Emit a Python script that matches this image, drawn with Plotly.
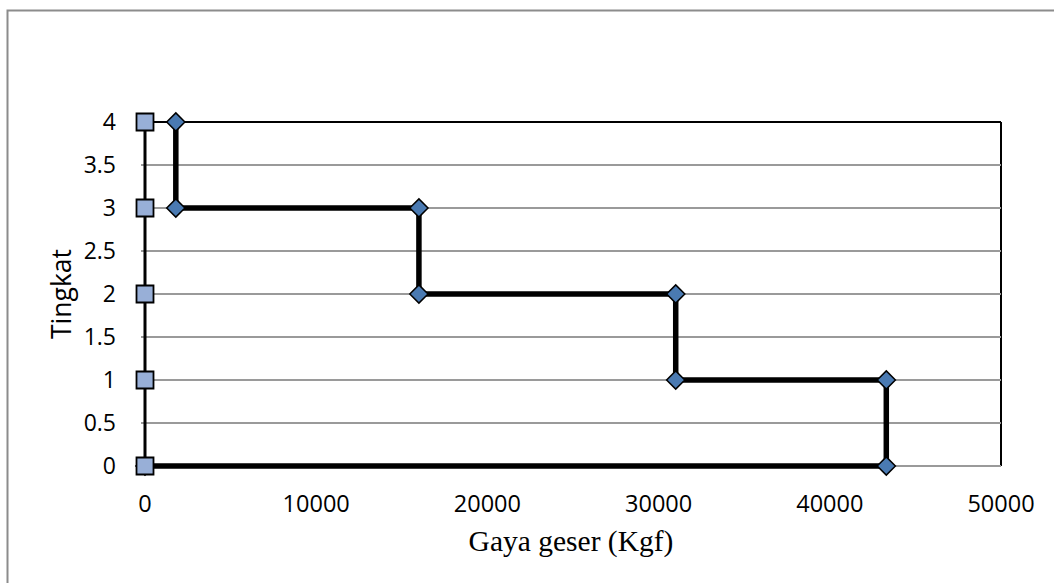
import plotly.graph_objects as go

# Story levels and shear force per level (Kgf)
tingkat = [4, 3, 3, 2, 2, 1, 1, 0, 0]
gaya_geser = [1800, 1800, 16000, 16000, 31000, 31000, 43300, 43300, 0]

# Reference column at zero force
tingkat_ref = [0, 1, 2, 3, 4]
gaya_ref = [0, 0, 0, 0, 0]

x_ticks = [0, 10000, 20000, 30000, 40000, 50000]
y_ticks = [0, 0.5, 1, 1.5, 2, 2.5, 3, 3.5, 4]

fig = go.Figure()

fig.add_trace(go.Scatter(
    x=gaya_geser, y=tingkat, mode="lines+markers",
    line=dict(color="black", width=5.5),
    marker=dict(symbol="diamond", size=14, color="#4a7ab2",
                line=dict(color="black", width=1.5)),
    cliponaxis=False, showlegend=False,
))

fig.add_trace(go.Scatter(
    x=gaya_ref, y=tingkat_ref, mode="lines+markers",
    line=dict(color="black", width=3),
    marker=dict(symbol="square", size=17, color="#98afd7",
                line=dict(color="black", width=1.8)),
    cliponaxis=False, showlegend=False,
))

# axis frame in pixels: x 0..50000 spans 145..1001, y 0..4 spans 466..122
X0, X1, Y4, Y0 = 145, 1001, 122, 466
PAD = 4  # extra room so the zero lines are not clipped
xpu = (X1 - X0) / 50000
ypu = (Y0 - Y4) / 4
x_range = [-PAD / xpu, 50000]
y_range = [-PAD / ypu, 4]

L, R, T, B = X0 - PAD, X1, Y4, Y0 + PAD
W, H = R - L, B - T


def px_x(p):
    return (p - L) / W


def px_y(p):
    return (B - p) / H


shapes = [
    # outer chart frame
    dict(type="rect", xref="paper", yref="paper",
         x0=px_x(7.5), x1=px_x(1070), y0=px_y(600), y1=px_y(10.5),
         line=dict(color="#8c8c8c", width=2), layer="below"),
    # top and right plot-area border
    dict(type="line", xref="paper", yref="paper",
         x0=px_x(X0), x1=1, y0=1, y1=1,
         line=dict(color="black", width=2), layer="below"),
    dict(type="line", xref="paper", yref="paper",
         x0=1, x1=1, y0=px_y(Y0), y1=1,
         line=dict(color="black", width=2), layer="below"),
]

fig.update_layout(
    width=1054, height=583,
    margin=dict(l=L, r=1054 - R, t=T, b=583 - B),
    paper_bgcolor="white", plot_bgcolor="white",
    shapes=shapes,
    font=dict(family="Open Sans", color="black", size=23),
    xaxis=dict(
        range=x_range, tickvals=x_ticks, tickformat="d",
        showgrid=False, zeroline=False, showline=False,
        ticks="", ticklabelstandoff=17,
        tickfont=dict(family="Open Sans", size=23.5),
        title=dict(text="Gaya geser (Kgf)",
                   font=dict(family="Liberation Serif", size=29.5),
                   standoff=12),
    ),
    yaxis=dict(
        range=y_range, tickvals=y_ticks,
        showgrid=True, gridcolor="#9a9a9a", gridwidth=1.5,
        zeroline=False, showline=False,
        ticks="", ticklabelstandoff=24,
        tickfont=dict(family="Open Sans", size=23),
    ),
    annotations=[
        dict(text="Tingkat", textangle=-90, showarrow=False,
             xref="paper", yref="paper",
             x=px_x(61), y=px_y((Y4 + Y0) / 2),
             xanchor="center", yanchor="middle",
             font=dict(family="Open Sans", size=26.5, color="black")),
    ],
)

fig.write_html("out.html")
